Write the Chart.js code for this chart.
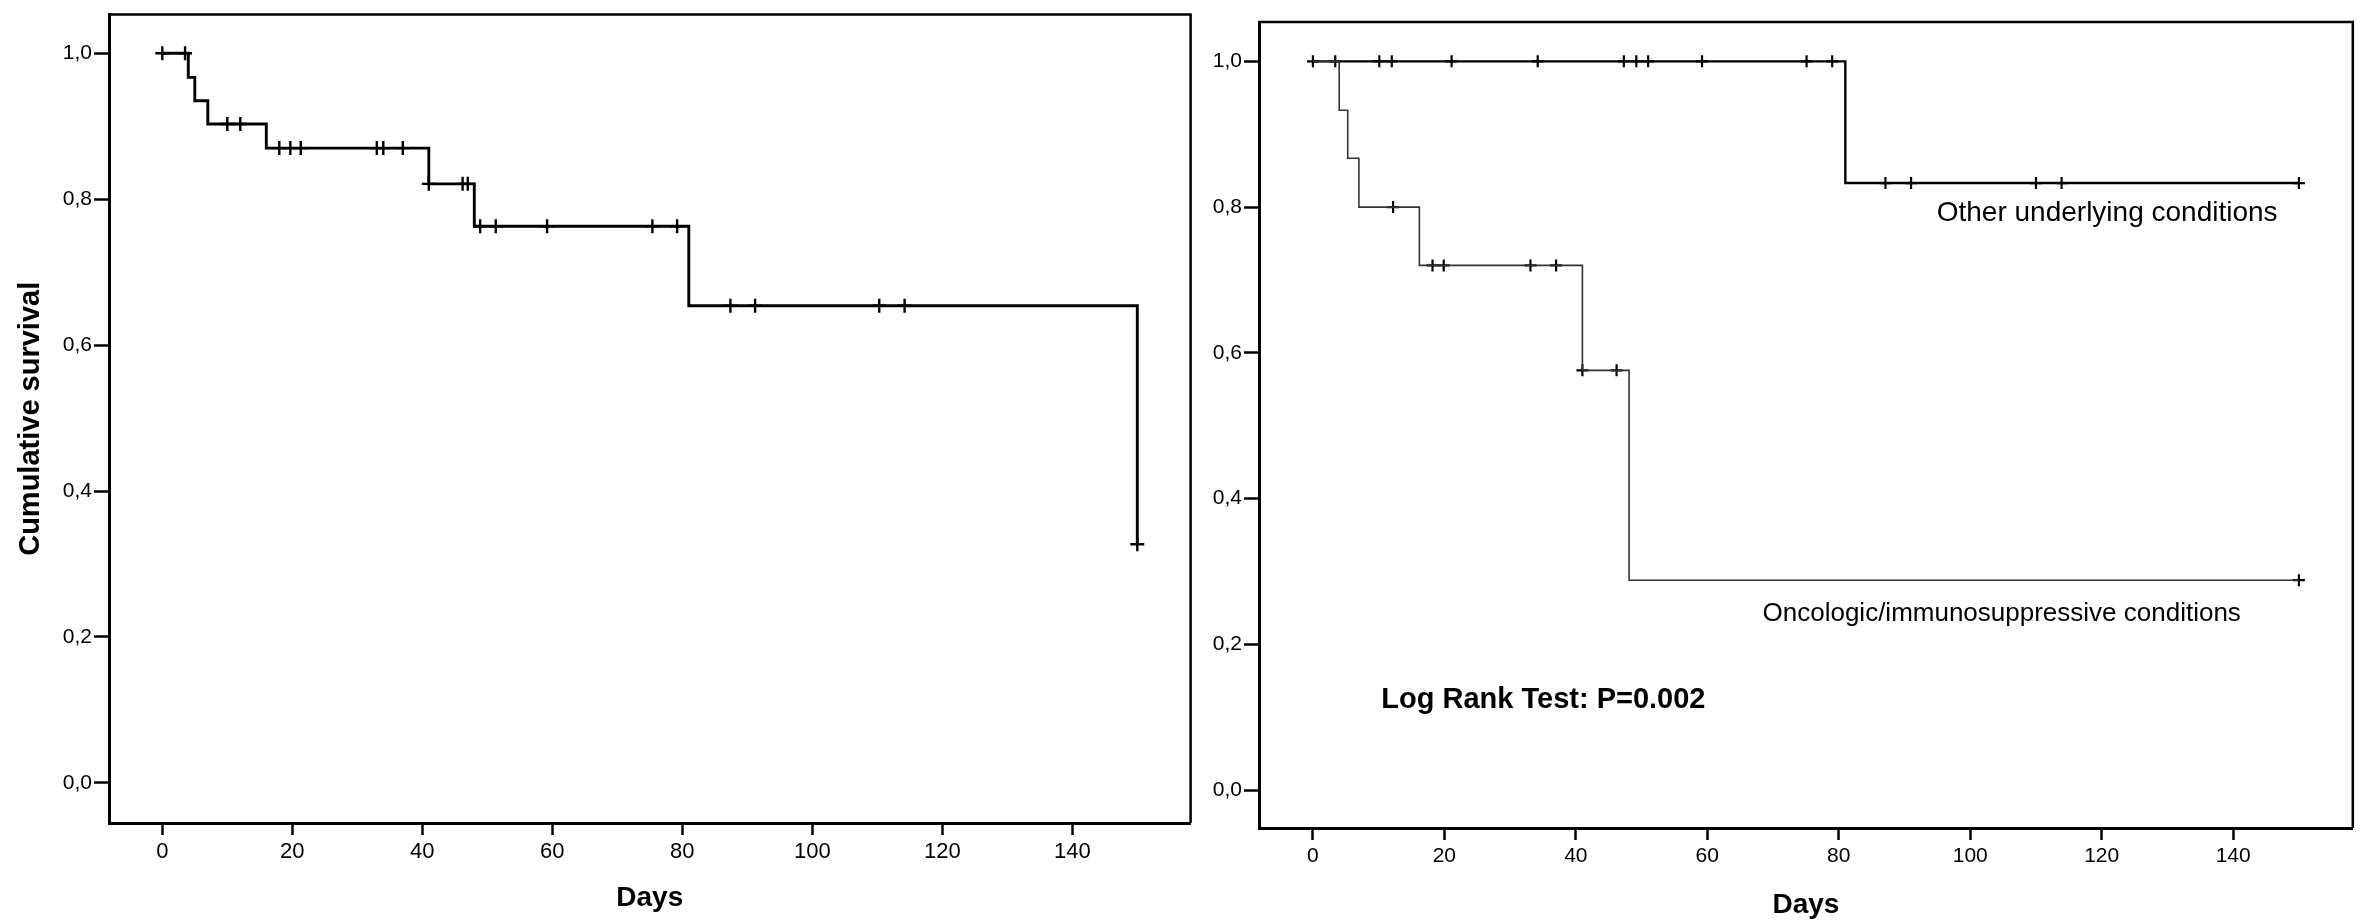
<!DOCTYPE html>
<html><head><meta charset="utf-8">
<script src="https://cdn.jsdelivr.net/npm/chart.js@4.4.1/dist/chart.umd.min.js"></script>
<style>
html,body{margin:0;padding:0;background:#fff;}
#wrap{position:relative;width:2361px;height:923px;background:#fff;overflow:hidden;}
canvas{position:absolute;top:0;}
#c1{left:0;} #c2{left:1200px;}
</style></head><body>
<div id="wrap"><canvas id="c1" width="1200" height="923"></canvas><canvas id="c2" width="1161" height="923"></canvas></div>
<script>
// ---- data ----
const xTicks = [0, 20, 40, 60, 80, 100, 120, 140];
const yTicks = [0, 0.2, 0.4, 0.6, 0.8, 1.0];

// Left panel: all patients
const allTimes  = [0, 4, 5, 7, 16, 41, 48, 81, 150];
const allSurv   = [1.0, 0.967, 0.935, 0.903, 0.870, 0.821, 0.763, 0.654, 0.327];
const allCensor = [0, 3.5, 10, 12, 18, 19.7, 21.3, 33, 34, 37, 41, 46.2, 47, 48.9, 51.3, 59.2, 75.4, 79.2, 87.4, 91.2, 110.3, 114.2, 150];

// Right panel: other underlying conditions
const otherTimes  = [0, 81, 150];
const otherSurv   = [1.0, 0.833, 0.833];
const otherCensor = [0, 3.4, 10.1, 12, 21.1, 34.2, 47.3, 49.2, 51, 59.2, 75.1, 79, 87.1, 91, 110, 113.9, 150];

// Right panel: oncologic/immunosuppressive conditions
const oncoTimes  = [0, 4, 5.3, 7, 16.2, 41, 48.1, 150];
const oncoSurv   = [1.0, 0.933, 0.867, 0.800, 0.720, 0.576, 0.288, 0.288];
const oncoCensor = [12.2, 18.2, 19.9, 33.1, 37, 41, 46.2, 150];

const labelOther = 'Other underlying conditions';
const labelOnco  = 'Oncologic/immunosuppressive conditions';
const labelTest  = 'Log Rank Test: P=0.002';

// ---- helpers ----
const FAM = '"Liberation Sans", Arial, Helvetica, sans-serif';
function survAt(times, surv, t) {
  let v = surv[0];
  for (let i = 0; i < times.length; i++) if (times[i] <= t) v = surv[i];
  return v;
}
function curve(times, surv, color, width) {
  return {
    data: times.map((t, i) => ({x: t, y: surv[i]})),
    showLine: true, stepped: true, borderColor: color, borderWidth: width,
    pointRadius: 0, fill: false
  };
}
function censors(times, surv, cens, color, width, r) {
  return {
    data: cens.map(t => ({x: t, y: survAt(times, surv, t)})),
    showLine: false, pointStyle: 'cross', pointRadius: r, pointHoverRadius: r,
    pointBorderColor: color, pointBackgroundColor: color, pointBorderWidth: width
  };
}
function makeScales(o) {
  return {
    x: {
      type: 'linear', min: -8.2, max: 158.2,
      afterBuildTicks: s => { s.ticks = xTicks.map(v => ({value: v})); },
      afterFit: s => { s.height = o.xH; },
      ticks: {font: {family: FAM, size: o.xFont}, color: '#000', padding: o.xPad, maxRotation: 0, autoSkip: false,
              callback: v => String(v)},
      grid: {drawOnChartArea: false, drawTicks: true, tickLength: 12, tickWidth: 2.5, tickColor: '#000'},
      border: {display: true, color: '#000', width: 3},
      title: {display: true, text: 'Days', color: '#000', font: {family: FAM, size: 28, weight: 'bold'},
              padding: {top: 0, bottom: o.daysPad}}
    },
    y: {
      type: 'linear', min: o.yMin, max: o.yMax,
      afterBuildTicks: s => { s.ticks = yTicks.map(v => ({value: v})); },
      afterFit: s => { s.width = o.yW; },
      ticks: {font: {family: FAM, size: 21}, color: '#000', padding: 2, autoSkip: false,
              callback: v => v.toFixed(1).replace('.', ',')},
      grid: {drawOnChartArea: false, drawTicks: true, tickLength: 15, tickWidth: 2.5, tickColor: '#000'},
      border: {display: true, color: '#000', width: 3},
      title: o.yTitle ? {display: true, text: 'Cumulative survival', color: '#000',
              font: {family: FAM, size: 29, weight: 'bold'}, padding: {top: 14, bottom: 0}} : {display: false}
    }
  };
}
const boxPlugin = {
  id: 'box',
  beforeDatasetsDraw(chart) {
    const a = chart.chartArea, ctx = chart.ctx;
    ctx.save();
    ctx.strokeStyle = '#000'; ctx.lineWidth = 2.5;
    ctx.beginPath();
    ctx.moveTo(a.left, a.top); ctx.lineTo(a.right, a.top); ctx.lineTo(a.right, a.bottom);
    ctx.stroke();
    ctx.restore();
  }
};
const notesPlugin = {
  id: 'notes',
  afterDatasetsDraw(chart, args, opts) {
    const ctx = chart.ctx, xs = chart.scales.x, ys = chart.scales.y;
    (opts.items || []).forEach(n => {
      ctx.save();
      ctx.fillStyle = '#000';
      ctx.font = (n.bold ? 'bold ' : '') + n.size + 'px ' + FAM;
      ctx.textAlign = 'left'; ctx.textBaseline = 'middle';
      ctx.fillText(n.text, xs.getPixelForValue(n.x), ys.getPixelForValue(n.y));
      ctx.restore();
    });
  }
};
function baseOptions(o, pad, notes) {
  return {
    responsive: false, animation: false, devicePixelRatio: 1,
    layout: {padding: pad},
    plugins: {legend: {display: false}, tooltip: {enabled: false}, notes: {items: notes}},
    scales: makeScales(o)
  };
}

new Chart(document.getElementById('c1'), {
  type: 'scatter',
  data: {datasets: [
    curve(allTimes, allSurv, '#000', 2.9),
    censors(allTimes, allSurv, allCensor, '#000', 2.4, 7)
  ]},
  options: baseOptions({xH: 100, yW: 109, xFont: 22, xPad: 4, daysPad: 8, yMin: -0.055, yMax: 1.053, yTitle: true},
                       {left: 0, right: 2, top: 12, bottom: 0}, []),
  plugins: [boxPlugin, notesPlugin]
});

new Chart(document.getElementById('c2'), {
  type: 'scatter',
  data: {datasets: [
    curve(oncoTimes, oncoSurv, '#333', 1.6),
    curve(otherTimes, otherSurv, '#000', 2.4),
    censors(oncoTimes, oncoSurv, oncoCensor, '#000', 2.2, 6),
    censors(otherTimes, otherSurv, otherCensor, '#000', 2.2, 6)
  ]},
  options: baseOptions({xH: 95, yW: 59, xFont: 21, xPad: 4, daysPad: 1, yMin: -0.052, yMax: 1.054, yTitle: false},
                       {left: 0, right: 2, top: 22, bottom: 0},
                       [
                         {text: labelOther, x: 94.9, y: 0.792, size: 28, bold: false},
                         {text: labelOnco, x: 68.4, y: 0.2415, size: 26, bold: false},
                         {text: labelTest, x: 10.4, y: 0.1235, size: 29, bold: true}
                       ]),
  plugins: [boxPlugin, notesPlugin]
});
</script>
</body></html>
